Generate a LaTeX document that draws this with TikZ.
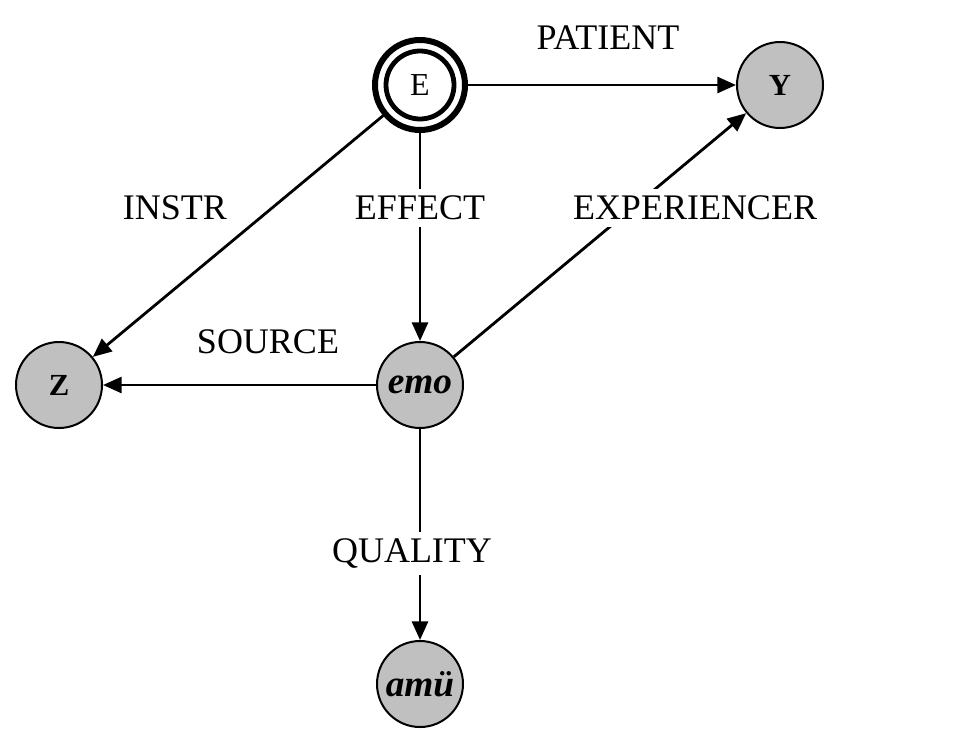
\documentclass[tikz,border=0pt]{standalone}
\usepackage{fontspec}
\setmainfont{Liberation Serif}
\usetikzlibrary{arrows.meta}
\definecolor{nodegray}{RGB}{192,192,192}
\begin{document}
\begin{tikzpicture}[x=0.75pt,y=-0.75pt,
  role/.style={circle,draw,line width=1.5pt,fill=nodegray,minimum size=64.5pt,inner sep=0pt,font=\fontsize{23}{27}\selectfont\bfseries},
  big/.style={font=\fontsize{28}{32}\selectfont\bfseries\itshape},
  arc/.style={line width=2.1pt,-{Triangle[length=14pt,width=12pt]}},
  lbl/.style={font=\fontsize{27}{32}\selectfont,inner sep=1pt},
  onarc/.style={lbl,fill=white,inner sep=5pt}]
\useasboundingbox (0,0) rectangle (966,729);

\node[circle,draw,line width=4.5pt,minimum size=67.5pt,inner sep=0pt,font=\fontsize{24}{28}\selectfont] (E) at (420,85) {E};
\draw[line width=3.6pt] (E.center) circle (25.5pt);

\node[role] (Y) at (780,85) {Y};
\node[role] (Z) at (59,385) {Z};
\node[role,big] (emo) at (420,385) {emo};
\node[role,big] (amu) at (420,684) {amü};

\draw[arc] (E) -- (Y);
\draw[arc] (E) -- (Z);
\draw[arc] (E) -- (emo);
\draw[arc] (emo) -- (Y);
\draw[arc] (emo) -- (Z);
\draw[arc] (emo) -- (amu);

\node[lbl] (patient) at (608,38) {PATIENT};
\node[lbl] (instr) at (175,208) {INSTR};
\node[onarc] (effect) at (420,208) {EFFECT};
\node[onarc] (experiencer) at (695,208) {EXPERIENCER};
\node[lbl] (source) at (268,342) {SOURCE};
\node[onarc] (quality) at (412,553) {QUALITY};
\end{tikzpicture}
\end{document}
